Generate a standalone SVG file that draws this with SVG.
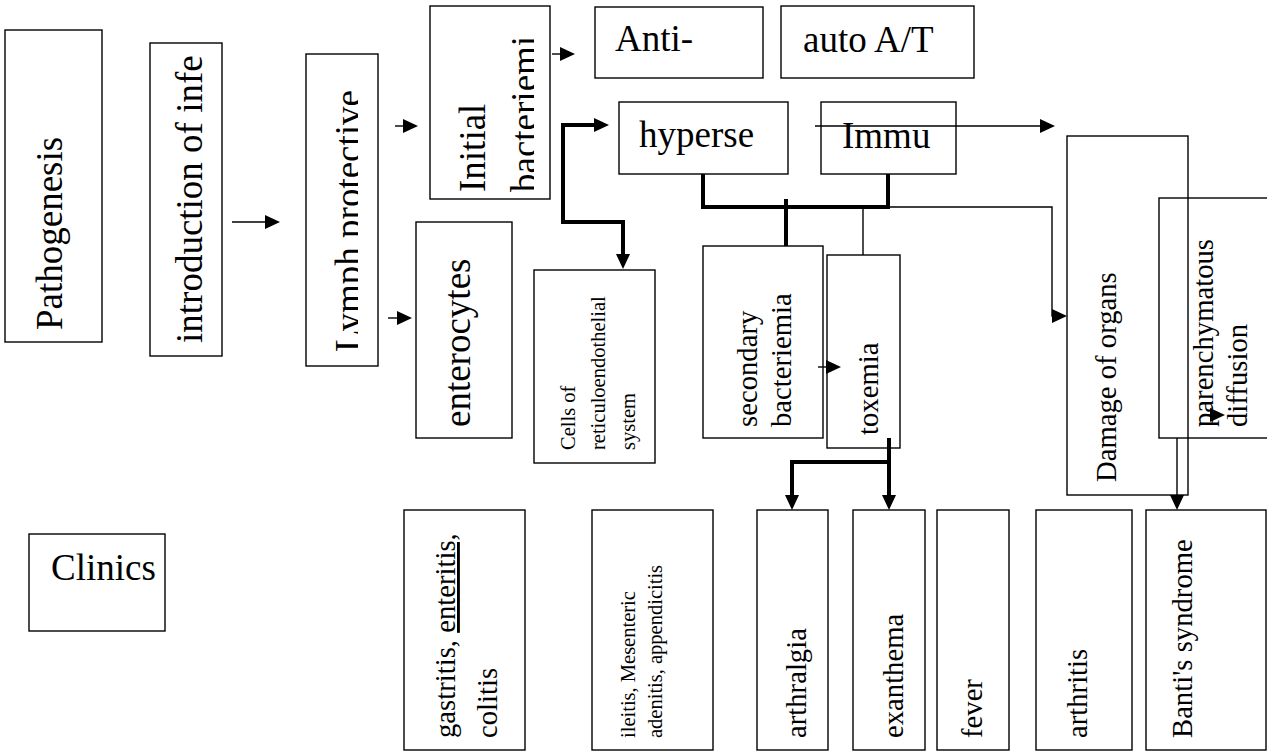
<svg xmlns="http://www.w3.org/2000/svg" width="1267" height="751" viewBox="0 0 1267 751">
<style>
.box{fill:none;stroke:#000;stroke-width:1.4}
.t{fill:#000}
.big{font-size:37px}
.mid{font-size:28.7px}
.sm{font-size:20.5px}
.thin{fill:none;stroke:#000;stroke-width:1.4}
.thick{fill:none;stroke:#000;stroke-width:4}
</style>
<defs>
<marker id="ah" markerUnits="userSpaceOnUse" markerWidth="15" markerHeight="14" refX="5" refY="7" orient="auto">
<path d="M0,0 L15,7 L0,14 z" fill="#000"/>
</marker>
<clipPath id="clipLymph"><rect x="300" y="50" width="58" height="320"/></clipPath>
<clipPath id="clipInitial"><rect x="425" y="0" width="109" height="205"/></clipPath>
</defs>
<rect width="1267" height="751" fill="#fff"/>

<g id="connectors">
<line class="thin" x1="232" y1="222" x2="270" y2="222" marker-end="url(#ah)"/>
<line class="thin" x1="395" y1="126" x2="408" y2="126" marker-end="url(#ah)"/>
<line class="thin" x1="388" y1="318" x2="402" y2="318" marker-end="url(#ah)"/>
<line class="thin" x1="552" y1="54" x2="565" y2="54" marker-end="url(#ah)"/>
<path class="thick" d="M599,125 H563 V222 H623 V259" marker-end="url(#ah)"/>
<path class="thick" d="M594,125 H599" marker-end="url(#ah)"/>
<line class="thin" x1="815" y1="126" x2="1045" y2="126" marker-end="url(#ah)"/>
<path class="thick" d="M703,174 V207 H888 V174"/>
<line class="thick" x1="786" y1="199" x2="786" y2="246"/>
<line class="thin" x1="863" y1="207" x2="863" y2="255"/>
<path class="thin" d="M888,207 H1052 V316 H1057" marker-end="url(#ah)"/>
<line class="thin" x1="818" y1="367" x2="831" y2="367" marker-end="url(#ah)"/>
<line class="thick" x1="889" y1="438" x2="889" y2="500" marker-end="url(#ah)"/>
<path class="thick" d="M889,462 H792 V500" marker-end="url(#ah)"/>
<line class="thin" x1="1205" y1="415" x2="1215" y2="415" marker-end="url(#ah)"/>
<line class="thin" x1="1177" y1="438" x2="1177" y2="500" marker-end="url(#ah)"/>
</g>

<g font-family="Liberation Serif, Times New Roman, serif">
<g id="pathogenesis">
<rect class="box" x="5" y="30" width="97" height="312"/>
<text class="t big" transform="translate(62,330) rotate(-90)">Pathogenesis</text>
</g>

<g id="introduction">
<rect class="box" x="150" y="43" width="72" height="313"/>
<text class="t big" transform="translate(202,343) rotate(-90)">introduction of infe</text>
</g>

<g id="lymph">
<rect class="box" x="306" y="54" width="72" height="312"/>
<g clip-path="url(#clipLymph)">
<text class="t big" transform="translate(361,352) rotate(-90)">Lymph protective</text>
</g>
</g>

<g id="initial">
<rect class="box" x="430" y="6" width="120" height="193"/>
<g clip-path="url(#clipInitial)">
<text class="t big" transform="translate(485,192) rotate(-90)"><tspan x="0" y="0">Initial</tspan><tspan x="0" y="52">bacteriemi</tspan></text>
</g>
</g>

<g id="enterocytes">
<rect class="box" x="416" y="222" width="96" height="216"/>
<text class="t big" transform="translate(470,427) rotate(-90)">enterocytes</text>
</g>

<g id="anti">
<rect class="box" x="595" y="7" width="168" height="71"/>
<text class="t big" x="615" y="51">Anti-</text>
</g>

<g id="auto">
<rect class="box" x="781" y="6" width="193" height="72"/>
<text class="t big" x="803" y="52">auto A/T</text>
</g>

<g id="hyperse">
<rect class="box" x="619" y="102" width="169" height="72"/>
<text class="t big" x="639" y="147">hyperse</text>
</g>

<g id="immu">
<rect class="box" x="821" y="102" width="135" height="72"/>
<text class="t big" x="842" y="148">Immu</text>
</g>

<g id="cells">
<rect class="box" x="534" y="270" width="121" height="193"/>
<text class="t sm" transform="translate(575,450) rotate(-90)"><tspan x="0" y="0">Cells of</tspan><tspan x="0" y="30">reticuloendothelial</tspan><tspan x="0" y="60">system</tspan></text>
</g>

<g id="secondary">
<rect class="box" x="703" y="246" width="120" height="192"/>
<text class="t mid" transform="translate(757,427) rotate(-90)"><tspan x="0" y="0">secondary</tspan><tspan x="0" y="34">bacteriemia</tspan></text>
</g>

<g id="toxemia">
<rect class="box" x="827" y="255" width="73" height="193"/>
<text class="t mid" transform="translate(878,435) rotate(-90)">toxemia</text>
</g>

<g id="damage">
<rect class="box" x="1067" y="136" width="121" height="359"/>
<text class="t mid" transform="translate(1116,482) rotate(-90)">Damage of organs</text>
</g>

<g id="parenchymatous">
<rect class="box" x="1159" y="198" width="130" height="240"/>
<text class="t mid" transform="translate(1213,427) rotate(-90)"><tspan x="0" y="0">parenchymatous</tspan><tspan x="0" y="34">diffusion</tspan></text>
</g>

<g id="clinics">
<rect class="box" x="29" y="534" width="136" height="97"/>
<text class="t big" x="51" y="580">Clinics</text>
</g>

<g id="gastritis">
<rect class="box" x="404" y="510" width="121" height="240"/>
<text class="t mid" transform="translate(455,738) rotate(-90)"><tspan x="0" y="0">gastritis, </tspan><tspan text-decoration="underline">enteritis,</tspan><tspan x="0" y="42">colitis</tspan></text>
</g>

<g id="ileitis">
<rect class="box" x="592" y="510" width="121" height="240"/>
<text class="t sm" transform="translate(635,738) rotate(-90)"><tspan x="0" y="0">ileitis, Mesenteric</tspan><tspan x="0" y="27">adenitis, appendicitis</tspan></text>
</g>

<g id="arthralgia">
<rect class="box" x="757" y="510" width="71" height="240"/>
<text class="t mid" transform="translate(806,738) rotate(-90)">arthralgia</text>
</g>

<g id="exanthema">
<rect class="box" x="853" y="510" width="72" height="240"/>
<text class="t mid" transform="translate(903,738) rotate(-90)">exanthema</text>
</g>

<g id="fever">
<rect class="box" x="937" y="510" width="72" height="240"/>
<text class="t mid" transform="translate(982,738) rotate(-90)">fever</text>
</g>

<g id="arthritis">
<rect class="box" x="1036" y="510" width="96" height="240"/>
<text class="t mid" transform="translate(1087,738) rotate(-90)">arthritis</text>
</g>

<g id="banti">
<rect class="box" x="1146" y="510" width="120" height="240"/>
<text class="t mid" transform="translate(1192,738) rotate(-90)">Banti's syndrome</text>
</g>
</g>
</svg>
